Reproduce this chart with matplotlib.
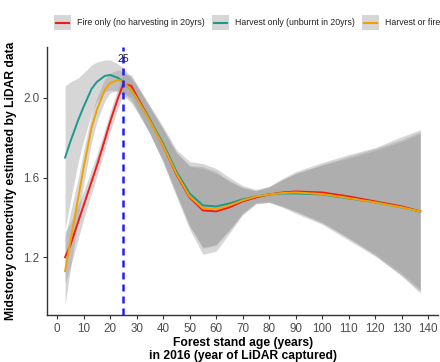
import matplotlib.pyplot as plt
from matplotlib.lines import Line2D
from matplotlib.patches import Rectangle

plt.rcParams['font.family'] = ['Liberation Sans', 'DejaVu Sans']

# stand age (years) at which the smoothed curves are read
ages = [3, 5, 8, 10, 13, 15, 18, 20, 23, 25, 28, 30, 35, 40, 45, 50, 55, 60,
        65, 70, 75, 80, 85, 90, 100, 110, 120, 130, 137]

fire_mean = [1.20, 1.26, 1.38, 1.46, 1.58, 1.66, 1.79, 1.88, 2.00, 2.07, 2.06, 2.01,
             1.89, 1.76, 1.615, 1.50, 1.435, 1.43, 1.45, 1.48, 1.50, 1.515, 1.525,
             1.53, 1.525, 1.505, 1.48, 1.455, 1.43]
fire_se = [0.13, 0.11, 0.085, 0.07, 0.06, 0.055, 0.05, 0.05, 0.05, 0.05, 0.055, 0.06,
           0.068, 0.085, 0.11, 0.16, 0.22, 0.20, 0.13, 0.068, 0.033, 0.04, 0.07,
           0.10, 0.15, 0.21, 0.27, 0.35, 0.41]

harvest_mean = [1.70, 1.78, 1.89, 1.955, 2.045, 2.08, 2.11, 2.115, 2.10, 2.08, 2.04,
                2.00, 1.89, 1.77, 1.63, 1.52, 1.46, 1.455, 1.47, 1.49, 1.505, 1.515,
                1.52, 1.52, 1.515, 1.495, 1.475, 1.45, 1.43]
harvest_se = [0.36, 0.30, 0.21, 0.17, 0.12, 0.10, 0.08, 0.075, 0.07, 0.068, 0.065,
              0.065, 0.07, 0.085, 0.11, 0.16, 0.21, 0.19, 0.13, 0.07, 0.035, 0.04,
              0.07, 0.10, 0.15, 0.21, 0.27, 0.34, 0.40]

either_mean = [1.13, 1.28, 1.50, 1.65, 1.85, 1.94, 2.04, 2.075, 2.09, 2.08, 2.04, 2.00,
               1.885, 1.76, 1.62, 1.505, 1.445, 1.44, 1.46, 1.485, 1.505, 1.515,
               1.522, 1.525, 1.517, 1.497, 1.475, 1.45, 1.43]
either_se = [0.17, 0.14, 0.10, 0.085, 0.07, 0.06, 0.055, 0.05, 0.05, 0.05, 0.055, 0.06,
             0.065, 0.08, 0.105, 0.15, 0.20, 0.18, 0.125, 0.065, 0.03, 0.035, 0.065,
             0.095, 0.145, 0.20, 0.26, 0.33, 0.39]

labels = ["Fire only (no harvesting in 20yrs)", "Harvest only (unburnt in 20yrs)",
          "Harvest or fire"]
colors = ["#f41a1a", "#1b9a8c", "#f2a100"]
lidar_age = 25

series = [(fire_mean, fire_se), (harvest_mean, harvest_se), (either_mean, either_se)]

fig = plt.figure(figsize=(4.4, 3.62), dpi=100)
ax = fig.add_axes([0.1075, 0.13, 0.888, 0.74])

# confidence ribbons first, like geom_smooth
for mean, se in series:
    lo = [m - s for m, s in zip(mean, se)]
    hi = [m + s for m, s in zip(mean, se)]
    ax.fill_between(ages, lo, hi, color="#999999", alpha=0.4, linewidth=0)

for (mean, se), c in zip(series, colors):
    ax.plot(ages, mean, color=c, linewidth=1.4, solid_joinstyle='round')

ax.axvline(lidar_age, color="#1f1fff", linewidth=1.8, dashes=(2.8, 2.0))
ax.text(lidar_age, 2.195, str(lidar_age), ha='center', va='center', fontsize=7.5,
        color="#222222")

ax.set_xlim(-3.7, 143.7)
ax.set_ylim(0.91, 2.255)
ax.set_xticks(range(0, 141, 10))
ax.set_yticks([1.2, 1.6, 2.0])
ax.tick_params(labelsize=8.4, labelcolor="#4d4d4d", color="#333333", length=3,
               width=0.8, pad=2.5)
ax.spines['top'].set_visible(False)
ax.spines['right'].set_visible(False)
for side in ['left', 'bottom']:
    ax.spines[side].set_color("#333333")
    ax.spines[side].set_linewidth(1.0)

ax.set_xlabel("Forest stand age (years)\nin 2016 (year of LiDAR captured)",
              fontsize=8.7, fontweight='bold', labelpad=2, linespacing=1.05)
ax.set_ylabel("Midstorey connectivity estimated by LiDAR data", fontsize=8.7,
              fontweight='bold', labelpad=5)

# top legend with grey key boxes
W, H = 440, 362
key_x = [54, 212, 362]
for kx, lab, c in zip(key_x, labels, colors):
    fig.patches.append(Rectangle((kx / W, (H - 30) / H), 17 / W, 15 / H,
                                 transform=fig.transFigure, color="#d6d6d6", lw=0))
    fig.lines.append(Line2D([(kx + 2) / W, (kx + 15) / W], [(H - 22.5) / H] * 2,
                            transform=fig.transFigure, color=c, linewidth=1.5))
    fig.text((kx + 23) / W, (H - 22.5) / H, lab, fontsize=6.3, va='center',
             color="#222222")

fig.savefig("out.png", dpi=100)
